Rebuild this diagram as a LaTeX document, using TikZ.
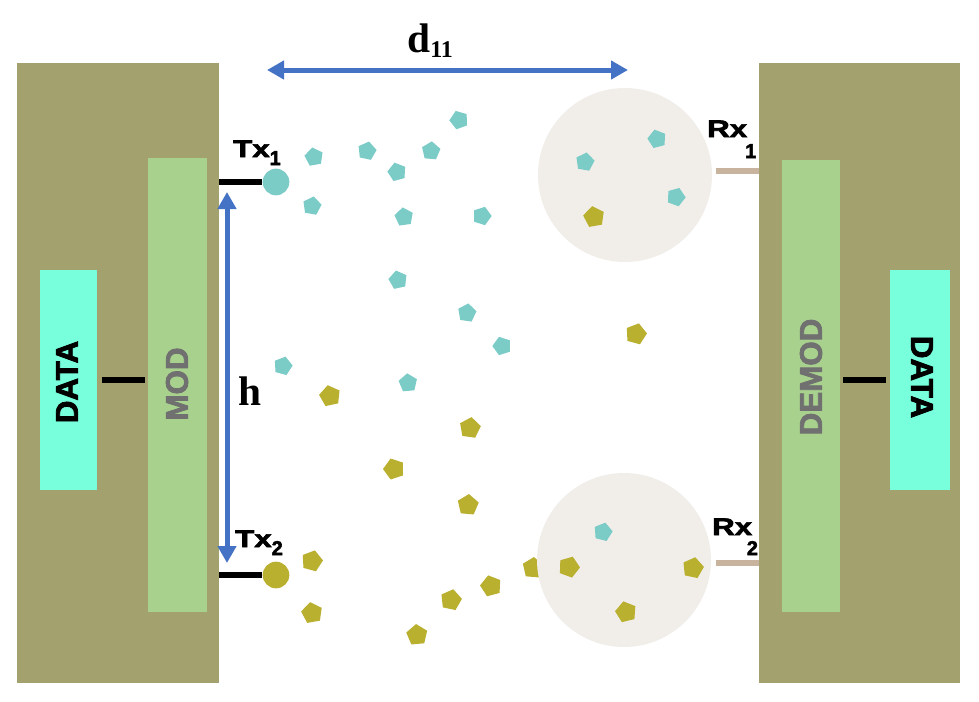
\documentclass[tikz,border=0pt]{standalone}
\usepackage{fontspec}
\setmainfont{Liberation Serif}
\setsansfont{Liberation Sans}
\newfontfamily\heavyfont{Liberation Sans}[BoldFeatures={FakeBold=2.5}]
\usepackage{graphicx}
\usetikzlibrary{arrows.meta, positioning, calc, shapes.geometric}
\definecolor{mimoOlive}{HTML}{A3A16D}
\definecolor{mimoGreen}{HTML}{A9D18E}
\definecolor{mimoAqua}{HTML}{78FFDC}
\definecolor{mimoGray}{HTML}{707070}
\definecolor{mimoTeal}{HTML}{7BCBC7}
\definecolor{mimoMustard}{HTML}{BAB02F}
\definecolor{mimoTan}{HTML}{C8B49E}
\definecolor{mimoZone}{HTML}{F1EEEA}
\definecolor{mimoBlue}{HTML}{4472C4}

\begin{document}
\begin{tikzpicture}[x=0.75pt,y=-0.75pt,
  blk/.style={rectangle,inner sep=0pt,draw=none},
  vtext/.style={font=\heavyfont\bfseries\fontsize{23.5}{23.5}\selectfont,inner sep=0pt},
  lbl/.style={font=\heavyfont\bfseries\fontsize{18}{18}\selectfont,inner sep=0pt,anchor=base west},
  molT/.style={regular polygon,regular polygon sides=5,minimum size=14.5pt,inner sep=0pt,draw=none,fill=mimoTeal},
  molM/.style={regular polygon,regular polygon sides=5,minimum size=16.5pt,inner sep=0pt,draw=none,fill=mimoMustard},
  wire/.style={line width=4.5pt},
  dim/.style={mimoBlue,line width=3.75pt,{Triangle[length=12.75pt,width=13.5pt]}-{Triangle[length=12.75pt,width=13.5pt]}}]
\newcommand{\sublabel}[3]{\scalebox{1.3}[1]{#1}\raisebox{#2}{\fontsize{15}{15}\selectfont #3}}
\useasboundingbox (0,0) rectangle (979,701);
% transmitter side
\node[blk,fill=mimoOlive,minimum width=151.5pt,minimum height=465pt] (lblk) at (118,373) {};
\node[blk,fill=mimoGreen,minimum width=44.25pt,minimum height=340.5pt] (mod) at (177.5,385) {};
\node[blk,fill=mimoAqua,minimum width=42.75pt,minimum height=165pt] (ldata) at (68.5,380) {};
\node[vtext,rotate=90] (ldatat) at (67,382) {DATA};
\node[vtext,rotate=90,text=mimoGray] (modt) at (177,384) {MOD};
\draw[wire,shorten <=3.75pt,shorten >=2.25pt] (ldata.east) -- (mod.west |- ldata.east);
% receiver side
\node[blk,fill=mimoOlive,minimum width=150.75pt,minimum height=465pt] (rblk) at (859.5,373) {};
\node[blk,fill=mimoGreen,minimum width=43.5pt,minimum height=339pt] (demod) at (811,386) {};
\node[blk,fill=mimoAqua,minimum width=45pt,minimum height=165pt] (rdata) at (920,380) {};
\node[vtext,rotate=90,text=mimoGray] (demodt) at (811,377) {DEMOD};
\node[vtext,rotate=-90] (rdatat) at (922,377) {DATA};
\draw[wire,shorten <=2.25pt,shorten >=3pt] (demod.east |- rdata.west) -- (rdata.west);
% transmitters
\node[circle,fill=mimoTeal,minimum size=20pt,inner sep=0pt] (tx1) at (276,182) {};
\node[circle,fill=mimoMustard,minimum size=20pt,inner sep=0pt] (tx2) at (276,575) {};
\draw[wire] (lblk.east |- tx1) -- (tx1.west);
\draw[wire] (lblk.east |- tx2) -- (tx2.west);
\node[lbl] (tx1t) at (233,157) {\sublabel{Tx}{-6pt}{1}};
\node[lbl] (tx2t) at (235,547) {\sublabel{Tx}{-6pt}{2}};
% receivers
\node[molM,rotate=-5] (m0) at (533,568) {};
\node[circle,fill=mimoZone,minimum size=130.5pt,inner sep=0pt] (rx1) at (625,175) {};
\node[circle,fill=mimoZone,minimum size=130.5pt,inner sep=0pt] (rx2) at (624,560) {};
\coordinate (rx1p) at (716,171);
\coordinate (rx2p) at (716,563);
\draw[wire,mimoTan] (rblk.west |- rx1p) -- (rx1p);
\draw[wire,mimoTan] (rblk.west |- rx2p) -- (rx2p);
\node[lbl] (rx1t) at (707,137) {\sublabel{Rx}{-15.75pt}{\kern-1.5pt 1}};
\node[lbl] (rx2t) at (712,535) {\sublabel{Rx}{-15pt}{\kern-4pt 2}};
% molecules
\foreach \x/\y/\r [count=\i] in {314/157/10,367/151/-12,397/172/15,431/151/-5,459/120/20,312/206/-10,404/217/8,482/216/-18,398/280/12,467/313/-8,502/346/18,283/366/-15,408/383/5,585/162/-10,657/139/15,676/197/-20,603/532/-14}
  \node[molT,rotate=\r] (t\i) at (\x,\y) {};
\foreach \x/\y/\r [count=\i] in {594/217/10,636/334/-15,330/396/12,470/428/-8,394/469/18,468/505/-5,312/561/-15,312/613/10,451/600/-12,491/586/15,417/635/5,569/567/-20,693/568/-12,626/612/14}
  \node[molM,rotate=\r] (m\i) at (\x,\y) {};
% distances
\coordinate (dl) at (267,70);
\coordinate (dr) at (628,70);
\coordinate (ht) at (227,192);
\coordinate (hb) at (227,563);
\draw[dim] (dl) -- (dr);
\draw[dim] (ht) -- (hb);
\node[font=\bfseries\fontsize{31}{31}\selectfont,inner sep=0pt,anchor=base west] (dlab) at (407,52) {d\raisebox{-3.75pt}{\fontsize{18}{18}\selectfont 11}};
\node[font=\bfseries\fontsize{31}{31}\selectfont,inner sep=0pt,anchor=base west] (hlab) at (238,405) {h};
\end{tikzpicture}
\end{document}
